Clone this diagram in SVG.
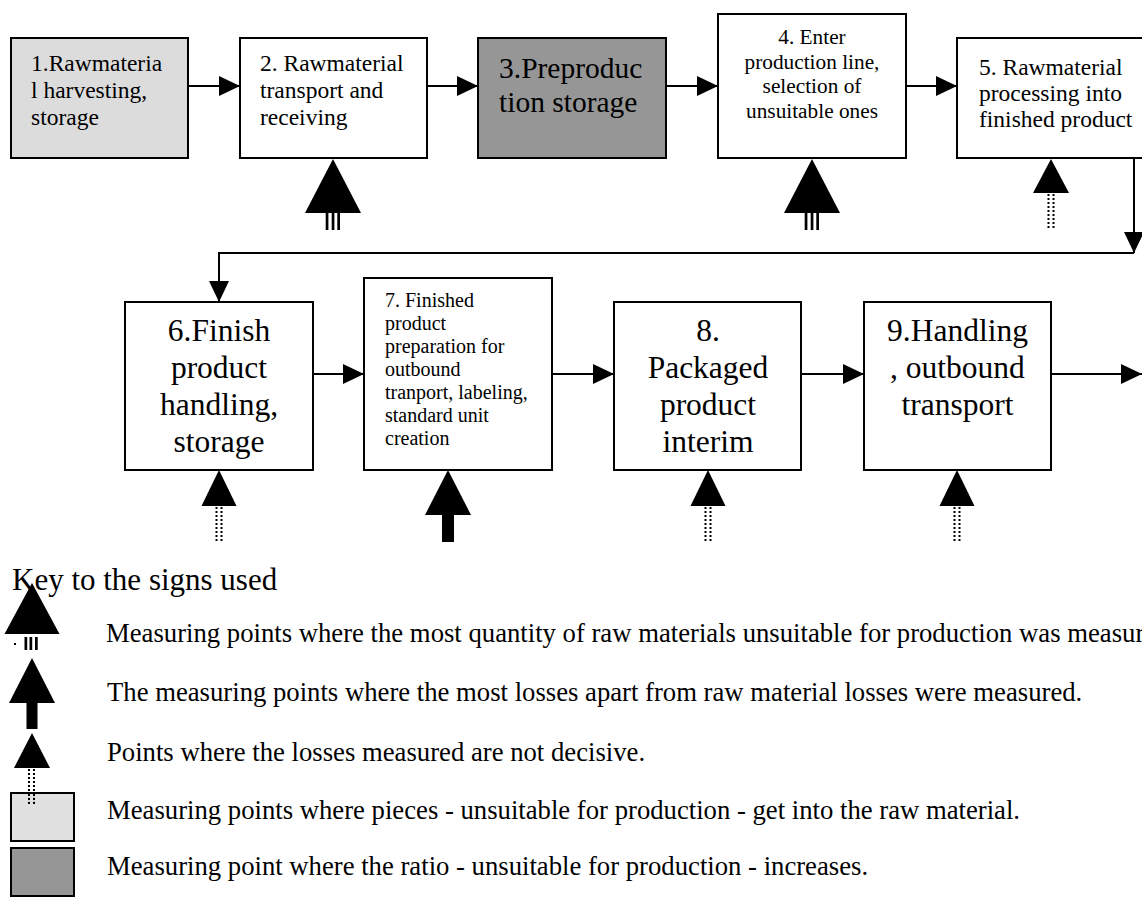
<svg xmlns="http://www.w3.org/2000/svg" width="1142" height="902" viewBox="0 0 1142 902">
<style>
.box{fill:#ffffff;stroke:#000;stroke-width:2}
.lt{fill:#dcdcdc}
.dk{fill:#969696}
.t{font-family:"Liberation Serif","Times New Roman",serif;fill:#000}
.s20{font-size:20px}
.s21{font-size:21.3px}
.s23{font-size:23.5px}
.s29{font-size:29.5px}
.s31{font-size:31.5px}
.s26{font-size:26.7px}
.mid{text-anchor:middle}
.con{fill:none;stroke:#000;stroke-width:2}
.dot{stroke:#000;stroke-width:2;stroke-dasharray:2 2}
.bar{fill:#000}
</style>
<defs>
<marker id="ah" markerUnits="userSpaceOnUse" markerWidth="21" markerHeight="20" refX="21" refY="10" orient="auto">
<path d="M0,0 L21,10 L0,20 z" fill="#000"/>
</marker>
</defs>
<rect width="1142" height="902" fill="#fff"/>

<g id="connectors">
<line class="con" x1="188" y1="86" x2="240" y2="86" marker-end="url(#ah)"/>
<line class="con" x1="427" y1="86" x2="478" y2="86" marker-end="url(#ah)"/>
<line class="con" x1="666" y1="86" x2="718" y2="86" marker-end="url(#ah)"/>
<line class="con" x1="906" y1="86" x2="957" y2="86" marker-end="url(#ah)"/>
<line class="con" x1="1134" y1="158" x2="1134" y2="253" marker-end="url(#ah)"/>
<path class="con" d="M1134,253 H219 V302" marker-end="url(#ah)"/>
<line class="con" x1="313" y1="374" x2="364" y2="374" marker-end="url(#ah)"/>
<line class="con" x1="552" y1="374" x2="614" y2="374" marker-end="url(#ah)"/>
<line class="con" x1="801" y1="374" x2="864" y2="374" marker-end="url(#ah)"/>
<line class="con" x1="1051" y1="374" x2="1142" y2="374" marker-end="url(#ah)"/>
</g>

<g id="n1">
<rect class="box lt" x="11" y="38" width="177" height="120"/>
<text class="t s23" x="31" y="71">1.Rawmateria</text>
<text class="t s23" x="31" y="98">l harvesting,</text>
<text class="t s23" x="31" y="125">storage</text>
</g>
<g id="n2">
<rect class="box" x="240" y="38" width="187" height="120"/>
<text class="t s23" x="260" y="71">2. Rawmaterial</text>
<text class="t s23" x="260" y="98">transport and</text>
<text class="t s23" x="260" y="125">receiving</text>
</g>
<g id="n3">
<rect class="box dk" x="478" y="38" width="188" height="120"/>
<text class="t s29" x="499" y="78">3.Preproduc</text>
<text class="t s29" x="499" y="112">tion storage</text>
</g>
<g id="n4">
<rect class="box" x="718" y="14" width="188" height="144"/>
<text class="t s21 mid" x="812" y="44">4. Enter</text>
<text class="t s21 mid" x="812" y="68.5">production line,</text>
<text class="t s21 mid" x="812" y="93">selection of</text>
<text class="t s21 mid" x="812" y="117.5">unsuitable ones</text>
</g>
<g id="n5">
<rect class="box" x="957" y="38" width="192" height="120"/>
<text class="t s23" x="979" y="75">5. Rawmaterial</text>
<text class="t s23" x="979" y="101">processing into</text>
<text class="t s23" x="979" y="127">finished product</text>
</g>
<g id="n6">
<rect class="box" x="125" y="302" width="188" height="168"/>
<text class="t s31 mid" x="219" y="341">6.Finish</text>
<text class="t s31 mid" x="219" y="378">product</text>
<text class="t s31 mid" x="219" y="415">handling,</text>
<text class="t s31 mid" x="219" y="452">storage</text>
</g>
<g id="n7">
<rect class="box" x="364" y="278" width="188" height="192"/>
<text class="t s20" x="385" y="307">7. Finished</text>
<text class="t s20" x="385" y="330">product</text>
<text class="t s20" x="385" y="353">preparation for</text>
<text class="t s20" x="385" y="376">outbound</text>
<text class="t s20" x="385" y="399">tranport, labeling,</text>
<text class="t s20" x="385" y="422">standard unit</text>
<text class="t s20" x="385" y="445">creation</text>
</g>
<g id="n8">
<rect class="box" x="614" y="302" width="187" height="168"/>
<text class="t s31 mid" x="708" y="341">8.</text>
<text class="t s31 mid" x="708" y="378">Packaged</text>
<text class="t s31 mid" x="708" y="415">product</text>
<text class="t s31 mid" x="708" y="452">interim</text>
</g>
<g id="n9">
<rect class="box" x="864" y="302" width="187" height="168"/>
<text class="t s31 mid" x="957.5" y="341">9.Handling</text>
<text class="t s31 mid" x="957.5" y="378">, outbound</text>
<text class="t s31 mid" x="957.5" y="415">transport</text>
</g>

<g id="measure-points">
<g id="m2">
<polygon points="333,159 361,213 305,213"/>
<rect class="bar" x="325.7" y="213" width="2.7" height="17"/>
<rect class="bar" x="331.7" y="213" width="2.7" height="17"/>
<rect class="bar" x="337.3" y="213" width="2.7" height="17"/>
</g>
<g id="m4">
<polygon points="812,159 840,213 784,213"/>
<rect class="bar" x="804.7" y="213" width="2.7" height="17"/>
<rect class="bar" x="810.7" y="213" width="2.7" height="17"/>
<rect class="bar" x="816.3" y="213" width="2.7" height="17"/>
</g>
<g id="m5">
<polygon points="1051,159 1069,193 1033,193"/>
<line class="dot" x1="1048.5" y1="194" x2="1048.5" y2="230"/>
<line class="dot" x1="1053.5" y1="194" x2="1053.5" y2="230"/>
</g>
<g id="m6">
<polygon points="219,470 236.5,506 201.5,506"/>
<line class="dot" x1="216.5" y1="507" x2="216.5" y2="542"/>
<line class="dot" x1="221.5" y1="507" x2="221.5" y2="542"/>
</g>
<g id="m7">
<polygon points="448,470 471,515 425,515"/>
<rect class="bar" x="442" y="514" width="12" height="28"/>
</g>
<g id="m8">
<polygon points="708,470 725.5,506 690.5,506"/>
<line class="dot" x1="705.5" y1="507" x2="705.5" y2="542"/>
<line class="dot" x1="710.5" y1="507" x2="710.5" y2="542"/>
</g>
<g id="m9">
<polygon points="957,470 974.5,506 939.5,506"/>
<line class="dot" x1="954.5" y1="507" x2="954.5" y2="542"/>
<line class="dot" x1="959.5" y1="507" x2="959.5" y2="542"/>
</g>
</g>

<g id="legend">
<text class="t" x="12" y="590" font-size="31">Key to the signs used</text>
<g id="key1">
<polygon points="32,583 59.5,634 4.5,634"/>
<rect class="bar" x="14" y="643" width="2" height="2"/>
<rect class="bar" x="24.5" y="637" width="2.7" height="13"/>
<rect class="bar" x="29.5" y="637" width="2.7" height="13"/>
<rect class="bar" x="35" y="637" width="2.7" height="13"/>
<text class="t s26" x="106" y="642">Measuring points where the most quantity of raw materials unsuitable for production was measured</text>
</g>
<g id="key2">
<polygon points="32,658 55,703 9,703"/>
<rect class="bar" x="26.5" y="702" width="11" height="27"/>
<text class="t s26" x="107" y="701">The measuring points where the most losses apart from raw material losses were measured.</text>
</g>
<g id="key3">
<polygon points="32,733 50,768 14,768"/>
<line class="dot" x1="29" y1="769" x2="29" y2="805"/>
<line class="dot" x1="34" y1="769" x2="34" y2="805"/>
<text class="t s26" x="107" y="761">Points where the losses measured are not decisive.</text>
</g>
<g id="key4">
<rect class="box lt" x="11" y="793" width="63" height="48" fill-opacity="0.85"/>
<line class="dot" x1="29" y1="794" x2="29" y2="805"/>
<line class="dot" x1="34" y1="794" x2="34" y2="805"/>
<text class="t s26" x="107" y="819">Measuring points where pieces - unsuitable for production - get into the raw material.</text>
</g>
<g id="key5">
<rect class="box dk" x="11" y="848" width="63" height="48"/>
<text class="t s26" x="107" y="875">Measuring point where the ratio - unsuitable for production - increases.</text>
</g>
</g>
</svg>
